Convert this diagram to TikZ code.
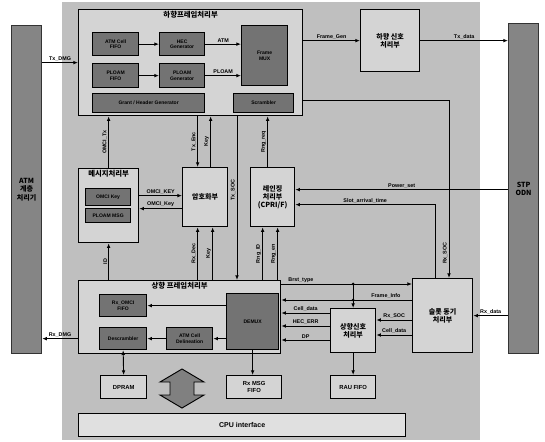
\documentclass[tikz,border=0pt]{standalone}
\usepackage{fontspec}
\setmainfont{Liberation Sans}
\newfontfamily\kr{Noto Sans CJK KR}
\usepackage{tikz}
\usetikzlibrary{positioning}
\usetikzlibrary{calc}
\usetikzlibrary{arrows.meta}

\tikzset{
    sz/.style 2 args={minimum width=#1*0.03cm, minimum height=#2*0.03cm},
    blk/.style={draw=black, line width=1.1pt, fill=black!17, anchor=north west, inner sep=1pt, align=center, font=\kr\fontsize{6}{7}\selectfont\bfseries},
    dark/.style={draw=black, line width=1.1pt, fill=black!55, anchor=north west, inner sep=1pt, align=center, font=\fontsize{4.3}{4.8}\selectfont\bfseries},
    bar/.style={draw=black!80, line width=1pt, fill=black!48, anchor=north west, inner sep=1pt, align=center, font=\kr\fontsize{6}{7}\selectfont\bfseries},
    ttl/.style={font=\kr\fontsize{6.3}{7}\selectfont\bfseries, inner sep=1pt},
    sig/.style={font=\fontsize{4.6}{5}\selectfont\bfseries, inner sep=1pt},
    arr/.style={line width=0.8pt, -{Latex[length=4pt,width=3.2pt]}},
    dbl/.style={line width=0.8pt, {Latex[length=4pt,width=3.2pt]}-{Latex[length=4pt,width=3.2pt]}},
    jn/.style={circle, fill=black, inner sep=0pt, minimum size=2.6pt}
}

\begin{document}
\begin{tikzpicture}[x=0.03cm, y=-0.03cm]
    \useasboundingbox (0,0) rectangle (545,441);
    \fill[black!25] (62,2) rectangle (480,440);

    \node[bar, sz={30}{328}] (lbar) at (11,25) {ATM\\계층\\처리기};
    \node[bar, sz={30}{330}] (rbar) at (508,23) {STP\\ODN};

    % downstream frame
    \node[blk, sz={224}{106}] (dl) at (78,9) {};
    \node[ttl, below=1pt of dl.north] (dlt) {하향프레임처리부};
    \node[dark, sz={46}{23}] (a1) at (92,32) {ATM Cell\\FIFO};
    \node[dark, sz={45}{23}] (a2) at (159,32) {HEC\\Generator};
    \node[dark, sz={46}{24}] (b1) at (92,63) {PLOAM\\FIFO};
    \node[dark, sz={45}{24}] (b2) at (159,63) {PLOAM\\Generator};
    \node[dark, sz={112}{19}] (c) at (92,93) {Grant / Header Generator};
    \node[dark, sz={46}{60}] (d) at (241,25) {Frame\\MUX};
    \node[dark, sz={60}{19}] (e) at (233,93) {Scrambler};
    \node[blk, sz={59}{62}] (ds) at (360,9) {하향 신호\\처리부};

    \draw[arr] (lbar.east |- dl.west) -- (dl.west) node[sig, midway, above] {Tx\_DMG};
    \draw[arr] (a1) -- (a2);
    \draw[arr] (a2) -- (d.west |- a2.east) node[sig, midway, above] {ATM};
    \draw[arr] (b1) -- (b2);
    \draw[arr] (b2) -- (d.west |- b2.east) node[sig, midway, above] {PLOAM};
    \draw[arr] (dl.east |- ds.west) -- (ds.west) node[sig, midway, above] {Frame\_Gen};
    \draw[arr] (ds.east) -- (ds.east -| rbar.west) node[sig, midway, above] {Tx\_data};

    % middle row
    \node[blk, sz={60}{74}] (msg) at (78,168) {};
    \node[ttl, below=1pt of msg.north] (msgt) {메시지처리부};
    \node[dark, sz={45}{17}] (m1) at (85,188) {OMCI Key};
    \node[dark, sz={45}{14}] (m2) at (85,208) {PLOAM MSG};
    \node[blk, sz={45}{59}] (enc) at (182,167) {암호화부};
    \node[blk, sz={44}{59}] (rng) at (250,167) {레인징\\처리부\\(CPRI/F)};

    \coordinate (k1) at ($(msg.east)+(0,-10)$);
    \coordinate (k2) at ($(msg.east)+(0,3)$);
    \draw[arr] (k1) -- (k1 -| enc.west) node[sig, midway, above] {OMCI\_KEY};
    \draw[arr] (k2 -| enc.west) -- (k2) node[sig, midway, above] {OMCI\_Key};

    \coordinate (u1) at ($(enc.north)+(-7.5,0)$);
    \coordinate (u2) at ($(enc.north)+(5.5,0)$);
    \coordinate (u3) at ($(rng.north)+(-5,0)$);
    \draw[arr] (msg.north) -- (msg.north |- dl.south) node[sig, midway, rotate=90, above] {OMCI\_Tx};
    \draw[arr] (u1 |- dl.south) -- (u1) node[sig, midway, rotate=90, above] {Tx\_Enc};
    \draw[arr] (u2) -- (u2 |- dl.south) node[sig, midway, rotate=90, above] {Key};
    \draw[arr] (u3) -- (u3 |- dl.south) node[sig, midway, rotate=90, above] {Rng\_req};

    % upstream frame
    \node[blk, sz={202}{73}] (ul) at (78,280) {};
    \node[ttl, below=1pt of ul.north] (ult) {상향 프레임처리부};
    \node[dark, sz={47}{22}] (f1) at (99,294) {Rx\_OMCI\\FIFO};
    \node[dark, sz={47}{22}] (f2) at (99,327) {Descrambler};
    \node[dark, sz={46}{22}] (f3) at (166,327) {ATM Cell\\Delineation};
    \node[dark, sz={52}{56}] (f4) at (226,293) {DEMUX};

    \coordinate (v0) at ($(ul.north west)+(159,0)$);
    \draw[arr] (v0 |- dl.south) -- (v0) node[sig, pos=0.45, rotate=90, above] {Tx\_SOC};

    \coordinate (l1) at ($(enc.south)+(-7.5,0)$);
    \coordinate (l2) at ($(enc.south)+(7.5,0)$);
    \coordinate (l3) at ($(rng.south)+(-10,0)$);
    \coordinate (l4) at ($(rng.south)+(5,0)$);
    \draw[arr] (msg.south |- ul.north) -- (msg.south) node[sig, midway, rotate=90, above] {ID};
    \draw[arr] (l1 |- ul.north) -- (l1) node[sig, midway, rotate=90, above] {Rx\_Dec};
    \draw[arr] (l2 |- ul.north) -- (l2) node[sig, midway, rotate=90, above] {Key};
    \draw[arr] (l3 |- ul.north) -- (l3) node[sig, midway, rotate=90, above] {Rng\_ID};
    \draw[arr] (l4 |- ul.north) -- (l4) node[sig, midway, rotate=90, above] {Rng\_en};

    \draw[arr] (f4.west |- f1.east) -- (f1.east);
    \draw[arr] (f4.west |- f3.east) -- (f3.east);
    \draw[arr] (f3.west) -- (f2.east);
    \draw[arr] (ul.west |- f2.east) -- (lbar.east |- f2.east) node[sig, midway, above] {Rx\_DMG};

    % bottom row
    \node[blk, sz={46}{23}, font=\fontsize{5}{6}\selectfont\bfseries] (dpram) at (100,375) {DPRAM};
    \node[blk, sz={55}{23}, font=\fontsize{5}{6}\selectfont\bfseries] (rxmsg) at (226,375) {Rx MSG\\FIFO};
    \node[blk, sz={327}{23}, fill=black!12, font=\fontsize{6}{7}\selectfont\bfseries] (cpu) at (78,413) {CPU interface};
    \draw[dbl] (f2.south) -- (dpram.north);
    \draw[arr] (f4.south) -- (f4.south |- rxmsg.north);
    \draw[line width=0.8pt, fill=black!50] (182,369) -- (204,382) -- (194,382) -- (194,395) -- (204,395)
        -- (182,408) -- (160,395) -- (170,395) -- (170,382) -- (160,382) -- cycle;

    % upstream signal / slot
    \node[blk, sz={45}{44}] (bp) at (330,308) {상향신호\\처리부};
    \node[blk, sz={45}{23}, font=\fontsize{5}{6}\selectfont\bfseries] (rau) at (330,375) {RAU FIFO};
    \node[blk, sz={60}{74}] (slot) at (412,278) {슬롯 동기\\처리부};
    \draw[arr] (bp.south) -- (rau.north);
    \draw[arr] (rbar.west |- slot.east) -- (slot.east) node[sig, midway, above] {Rx\_data};

    \coordinate (bt) at ($(ul.north east)+(0,4)$);
    \coordinate (fi) at ($(slot.north west)+(0,22)$);
    \draw[arr] (bt) -- (bt -| slot.west) node[sig, pos=0.15, above] {Brst\_type};
    \draw[arr] (fi) -- (fi -| ul.east) node[sig, pos=0.2, above] {Frame\_Info};
    \draw[arr] (bt -| bp.north) -- (bp.north);
    \node[jn] (j1) at (bt -| bp.north) {};
    \node[jn] (j2) at (fi -| bp.north) {};

    \coordinate (c1) at ($(bp.north west)+(0,5)$);
    \coordinate (c2) at ($(bp.north west)+(0,18)$);
    \coordinate (c3) at ($(bp.north west)+(0,32)$);
    \draw[arr] (c1) -- (c1 -| ul.east) node[sig, midway, above] {Cell\_data};
    \draw[arr] (c2) -- (c2 -| ul.east) node[sig, midway, above] {HEC\_ERR};
    \draw[arr] (c3) -- (c3 -| ul.east) node[sig, midway, above] {DP};

    \coordinate (s1) at ($(slot.north west)+(0,42)$);
    \coordinate (s2) at ($(slot.north west)+(0,57)$);
    \draw[arr] (s1) -- (s1 -| bp.east) node[sig, midway, above] {Rx\_SOC};
    \draw[arr] (s2) -- (s2 -| bp.east) node[sig, midway, above] {Cell\_data};

    % ranging links
    \coordinate (pw) at ($(rng.east)+(0,-7.5)$);
    \coordinate (sa) at ($(rng.east)+(0,7.5)$);
    \draw[arr] (rbar.west |- pw) -- (pw) node[sig, midway, above] {Power\_set};
    \draw[arr] ($(slot.north west)+(23,0)$) |- (sa) node[sig, pos=0.75, above] {Slot\_arrival\_time};
    \draw[arr] ($(dl.south east)+(0,-16)$) -| ($(slot.north west)+(37,0)$) node[sig, pos=0.93, rotate=90, above] {Rx\_SOC};
\end{tikzpicture}
\end{document}
